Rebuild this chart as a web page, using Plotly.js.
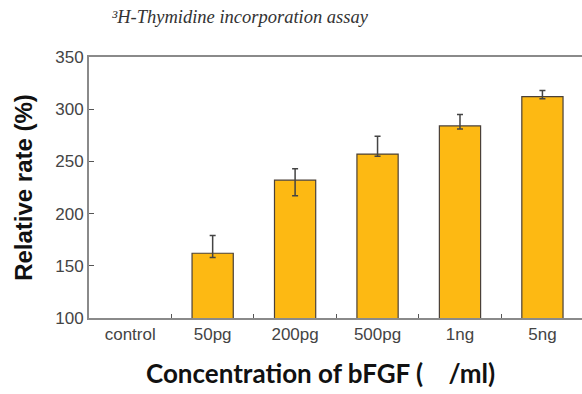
<!DOCTYPE html>
<html><head><meta charset="utf-8">
<script src="https://cdn.plot.ly/plotly-3.0.1.min.js"></script>
<style>html,body{margin:0;padding:0;overflow:hidden;background:#fff;}</style>
</head><body><div id="chart" style="width:582px;height:394px;"></div>
<script>
var categories = ["control", "50pg", "200pg", "500pg", "1ng", "5ng"];
var rates = [null, 162, 232, 257, 284, 312];
var errUp = [0, 17, 11, 17, 11, 6];
var errDown = [0, 4, 15, 2, 3, 2];

var trace = {
  type: "bar",
  x: categories,
  y: rates,
  width: 0.5,
  marker: {color: "#FDB913", line: {color: "#4a4038", width: 1.2}},
  error_y: {type: "data", symmetric: false, array: errUp, arrayminus: errDown,
            color: "#444", thickness: 1.5, width: 3}
};

var layout = {
  width: 582, height: 394,
  margin: {l: 89, r: 0, t: 57, b: 76},
  paper_bgcolor: "#fff", plot_bgcolor: "#fff",
  showlegend: false,
  title: {text: "³H-Thymidine incorporation assay",
          font: {family: "Liberation Serif", size: 18.5, color: "#333", style: "italic"},
          x: 0.412, xanchor: "center", xref: "container", y: 0.957, yanchor: "middle", yref: "container"},
  xaxis: {
    type: "category", range: [-0.5, 5.48],
    showline: true, linecolor: "#8a8a8a", linewidth: 2, mirror: true,
    ticks: "inside", tickson: "boundaries", ticklen: 4, tickcolor: "#555", tickwidth: 1,
    showgrid: false, zeroline: false,
    tickfont: {family: "Liberation Sans", size: 17, color: "#444"}
  },
  yaxis: {
    range: [100, 350], tickvals: [100, 150, 200, 250, 300, 350],
    showline: true, linecolor: "#8a8a8a", linewidth: 2,
    ticks: "inside", ticklen: 5, tickcolor: "#555", tickwidth: 1,
    showgrid: false, zeroline: false,
    tickfont: {family: "Liberation Sans", size: 17, color: "#444"},
    title: {text: "Relative rate (%)", standoff: 16,
            font: {family: "Liberation Sans", size: 24, color: "#111", weight: "bold"}}
  },
  annotations: [{
    text: "Concentration of bFGF (    /ml)",
    xref: "paper", yref: "paper", x: (320 - 89) / 493, y: -0.212,
    xanchor: "center", yanchor: "middle", showarrow: false,
    font: {family: "Lato", size: 26, color: "#111", weight: "bold"}
  }]
};

Plotly.newPlot("chart", [trace], layout, {displayModeBar: false, staticPlot: true});
</script></body></html>
